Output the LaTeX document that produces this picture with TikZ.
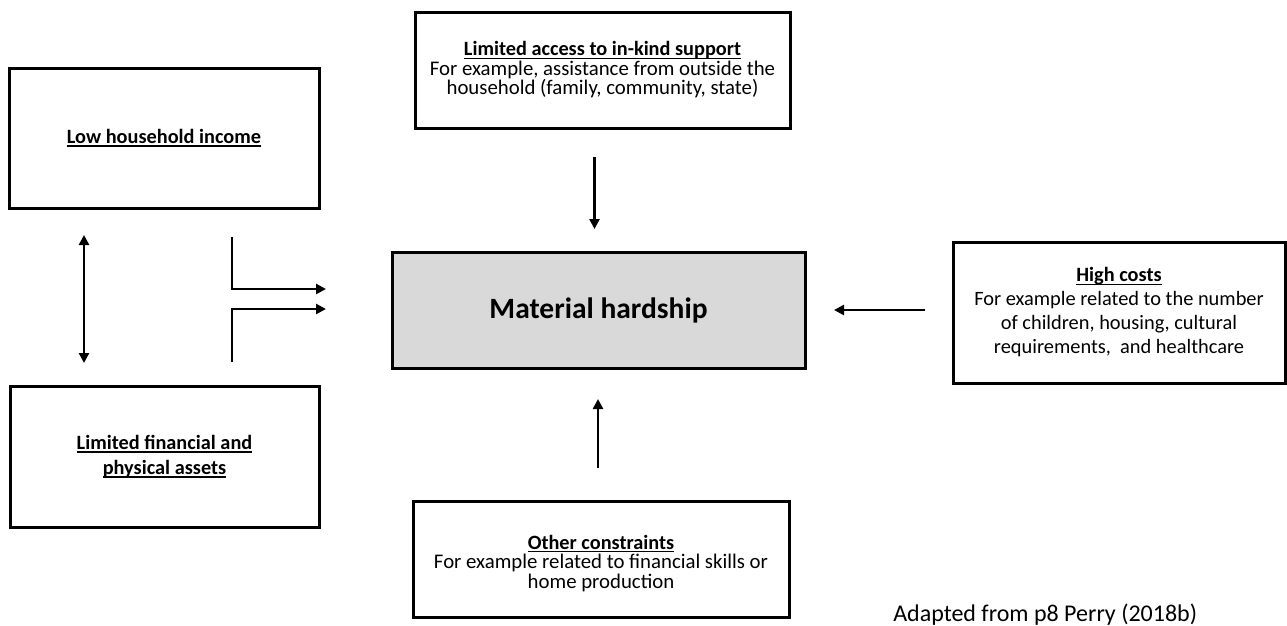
\documentclass[tikz,border=0pt]{standalone}
\usepackage{fontspec}
\setmainfont{Carlito}
\usetikzlibrary{arrows.meta}
\tikzset{>={Triangle[length=10pt,width=10pt]}}
\newcommand{\hd}[1]{\setbox0\hbox{\fontsize{20.3}{19.5}\selectfont\bfseries #1}\rlap{\rule[-3pt]{\wd0}{1.4pt}}\box0}

\begin{document}
\begin{tikzpicture}[x=1pt,y=-1pt,line width=2.5pt,
    box/.style={draw,line width=3pt,outer sep=0pt,inner sep=0pt,align=center,
      font=\fontsize{20.8}{19.5}\selectfont}]
  \useasboundingbox (0,0) rectangle (1287,625);

  % resources on the left
  \node[box,minimum width=310pt,minimum height=140pt] (inc) at (164,138) {\hd{Low household income}};
  \node[box,minimum width=309pt,minimum height=141pt,font=\fontsize{20.8}{25}\selectfont] (ast) at (164.5,456.5) {\hd{Limited financial and}\\\hd{physical assets}};

  % outcome
  \node[box,fill=gray!30,minimum width=413pt,minimum height=116pt,font=\fontsize{29.5}{35}\selectfont\bfseries] (mh) at (598.5,310) {Material hardship};

  % other factors
  \node[box,minimum width=375pt,minimum height=116pt] (sup) at (602.5,70)
    {\hd{Limited access to in-kind support}\\For example, assistance from outside the\\household (family, community, state)};
  \node[box,minimum width=332pt,minimum height=141pt,font=\fontsize{20.4}{24}\selectfont] (cost) at (1119,312.5)
    {\hd{High costs}\\For example related to the number\\of children, housing, cultural\\requirements,~ and healthcare};
  \node[box,minimum width=376pt,minimum height=116pt] (oth) at (601,559)
    {\rule{0pt}{23pt}\hd{Other constraints}\\For example related to financial skills or\\home production};

  % arrows
  \draw[<->,shorten <=27pt,shorten >=23pt] ([xshift=-80pt]inc.south) -- ([xshift=-80.5pt]ast.north);
  \draw[->] ([xshift=68pt,yshift=-29pt]inc.south) |- ([xshift=-66pt,yshift=21pt]mh.west);
  \draw[->] ([xshift=67.5pt,yshift=24pt]ast.north) |- ([xshift=-66pt,yshift=1pt]mh.west);
  \draw[->,shorten <=29pt,shorten >=23pt] ([xshift=-8pt]sup.south) -- ([xshift=-4pt]mh.north);
  \draw[->,shorten <=33pt,shorten >=31pt] ([xshift=-3pt]oth.north) -- ([xshift=-0.5pt]mh.south);
  \draw[->,shorten <=28pt,shorten >=29pt] ([yshift=2.5pt]cost.west) -- (mh.east);

  \node[anchor=base west,inner sep=0pt,font=\fontsize{24}{28}\selectfont] (src) at (892,621) {Adapted from p8 Perry (2018b)};
\end{tikzpicture}
\end{document}
